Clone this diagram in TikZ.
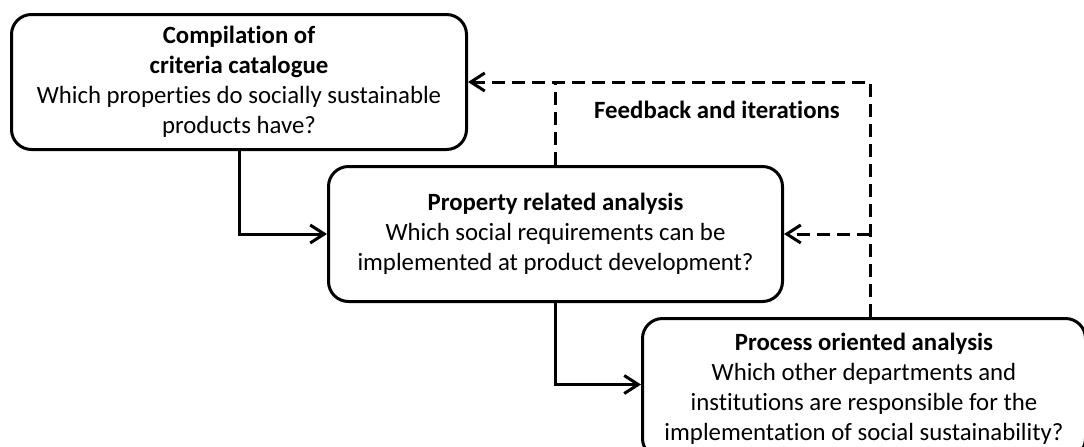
\documentclass[tikz,border=0pt]{standalone}
\usepackage{fontspec}
\setmainfont{Carlito}[Ligatures=NoCommon]
\usetikzlibrary{arrows.meta}

\begin{document}
\begin{tikzpicture}[x=0.5pt, y=-0.5pt, >={Straight Barb[length=7pt,width=9pt]}, line width=1.5pt,
        stage/.style={draw, rounded corners=10pt, align=center, anchor=north west, inner sep=2pt,
            font=\fontsize{12.4pt}{15pt}\selectfont},
        feedback/.style={dashed, dash pattern=on 6.5pt off 3.5pt}]
        \useasboundingbox (0,0) rectangle (1084,446);
        \clip (0,0) rectangle (1084,446);

        \node [stage, minimum width=227.5pt, minimum height=67.5pt] (crit) at (10,13)
            {\textbf{Compilation of}\\\textbf{criteria catalogue}\\Which properties do socially sustainable\\products have?};
        \node [stage, minimum width=227pt, minimum height=67.5pt] (prop) at (327,165)
            {\textbf{Property related analysis}\\Which social requirements can be\\implemented at product development?};
        \node [stage, minimum width=221.5pt, minimum height=70pt] (proc) at (641,317)
            {\textbf{Process oriented analysis}\\Which other departments and\\institutions are responsible for the\\implementation of social sustainability?};

        % main flow
        \draw [->] (crit.south) |- (prop.west);
        \draw [->] (prop.south) |- ([yshift=2pt]proc.west);

        % feedback loops
        \coordinate (fbup) at ([xshift=3pt]proc.north);
        \draw [feedback, ->] (fbup) |- (crit.east);
        \draw [feedback] (prop.north) -- (prop.north |- crit.east);
        \draw [feedback, ->] (fbup |- prop.east) -- (prop.east);

        \node [font=\fontsize{12.4pt}{15pt}\selectfont\bfseries] (fblabel) at (717,110) {Feedback and iterations};
    \end{tikzpicture}
\end{document}
